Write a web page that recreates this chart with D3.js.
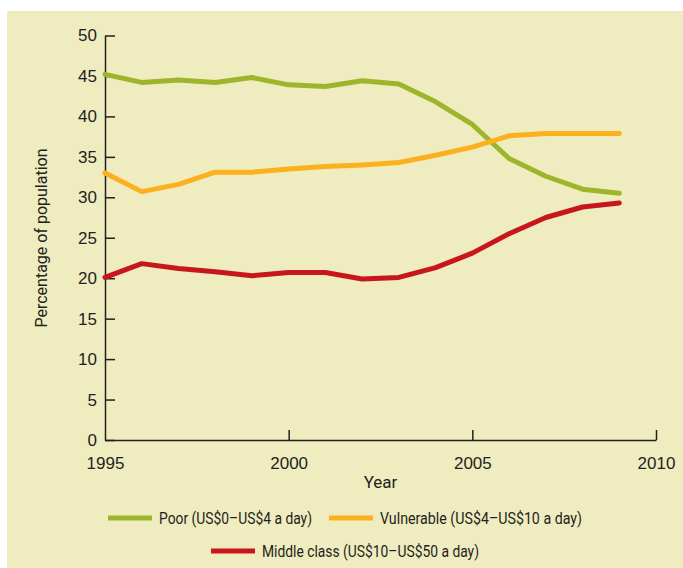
<!DOCTYPE html>
<html>
<head>
<meta charset="utf-8">
<script src="https://cdn.jsdelivr.net/npm/d3@7"></script>
<style>
  body { margin: 0; background: #fff; }
  svg { display: block; font-family: Roboto, "Open Sans", sans-serif; }
</style>
</head>
<body>
<svg id="chart"></svg>
<script>
// data
const years = [1995, 1996, 1997, 1998, 1999, 2000, 2001, 2002, 2003, 2004, 2005, 2006, 2007, 2008, 2009];
const poor = [45.2, 44.2, 44.5, 44.2, 44.8, 43.9, 43.7, 44.4, 44.0, 41.8, 39.0, 34.8, 32.6, 31.0, 30.5];
const vulnerable = [33.0, 30.7, 31.6, 33.1, 33.1, 33.5, 33.8, 34.0, 34.3, 35.2, 36.2, 37.6, 37.9, 37.9, 37.9];
const middle = [20.1, 21.8, 21.2, 20.8, 20.3, 20.7, 20.7, 19.9, 20.1, 21.3, 23.1, 25.5, 27.5, 28.8, 29.3];
const xTicks = [1995, 2000, 2005, 2010];
const yTicks = [0, 5, 10, 15, 20, 25, 30, 35, 40, 45, 50];

const series = [
  { name: "Poor (US$0\u2013US$4 a day)", values: poor, color: "#9db52a" },
  { name: "Vulnerable (US$4\u2013US$10 a day)", values: vulnerable, color: "#fdb01d" },
  { name: "Middle class (US$10\u2013US$50 a day)", values: middle, color: "#c8161d" }
];

const W = 683, H = 568;
const textColor = "#231f20";
const fontSize = "17px";

const svg = d3.select("#chart").attr("width", W).attr("height", H);

// panel background
svg.append("rect")
  .attr("x", 7).attr("y", 11)
  .attr("width", W - 7).attr("height", H - 11)
  .attr("fill", "#efecbf");

const x = d3.scaleLinear().domain([1995, 2010]).range([105, 656]);
const y = d3.scaleLinear().domain([0, 50]).range([440, 35.5]);

// y axis, ticks pointing inwards
const yAxis = svg.append("g")
  .attr("transform", `translate(${x(1995)},0)`)
  .call(d3.axisRight(y).tickValues(yTicks).tickSize(10).tickSizeOuter(0).tickFormat(d3.format("d")));
yAxis.select(".domain").attr("stroke", textColor).attr("stroke-width", 1.5);
yAxis.selectAll(".tick line").attr("stroke", textColor).attr("stroke-width", 1.5);
yAxis.selectAll(".tick text")
  .attr("x", -8).attr("text-anchor", "end")
  .attr("fill", textColor).style("font-size", fontSize);

// x axis, ticks pointing up
const xAxis = svg.append("g")
  .attr("transform", `translate(0,${y(0)})`)
  .call(d3.axisTop(x).tickValues(xTicks).tickSize(10).tickSizeOuter(0).tickFormat(d3.format("d")));
xAxis.select(".domain").attr("stroke", textColor).attr("stroke-width", 1.5);
xAxis.selectAll(".tick line")
  .attr("stroke", textColor).attr("stroke-width", 1.5)
  .attr("display", d => d === 1995 ? "none" : null);
xAxis.selectAll(".tick text")
  .attr("y", 29).attr("dy", 0)
  .attr("fill", textColor).style("font-size", fontSize);

// axis titles
svg.append("text")
  .attr("x", (x(1995) + x(2010)) / 2).attr("y", 488)
  .attr("text-anchor", "middle")
  .attr("fill", textColor).style("font-size", fontSize)
  .text("Year");

svg.append("text")
  .attr("transform", "translate(47,238) rotate(-90)")
  .attr("text-anchor", "middle")
  .attr("textLength", 179).attr("lengthAdjust", "spacingAndGlyphs")
  .attr("fill", textColor).style("font-size", fontSize)
  .text("Percentage of population");

// lines
const line = d3.line()
  .x((d, i) => x(years[i]))
  .y(d => y(d));

svg.selectAll("path.series")
  .data(series)
  .join("path")
  .attr("class", "series")
  .attr("d", d => line(d.values))
  .attr("fill", "none")
  .attr("stroke", d => d.color)
  .attr("stroke-width", 5)
  .attr("stroke-linecap", "round")
  .attr("stroke-linejoin", "round");

// legend (the original face is narrower, so the labels are squeezed to its widths)
const legendPos = [
  { x: 108, y: 518, w: 153 },
  { x: 329, y: 518, w: 202 },
  { x: 211, y: 551, w: 217 }
];

const legend = svg.selectAll("g.legend")
  .data(series)
  .join("g")
  .attr("class", "legend")
  .attr("transform", (d, i) => `translate(${legendPos[i].x},${legendPos[i].y})`);

legend.append("line")
  .attr("x1", 0).attr("x2", 44)
  .attr("stroke", d => d.color)
  .attr("stroke-width", 5);

legend.append("text")
  .attr("x", 51).attr("dy", "0.35em")
  .attr("textLength", (d, i) => legendPos[i].w).attr("lengthAdjust", "spacingAndGlyphs")
  .attr("fill", textColor).style("font-size", fontSize)
  .text(d => d.name);
</script>
</body>
</html>
